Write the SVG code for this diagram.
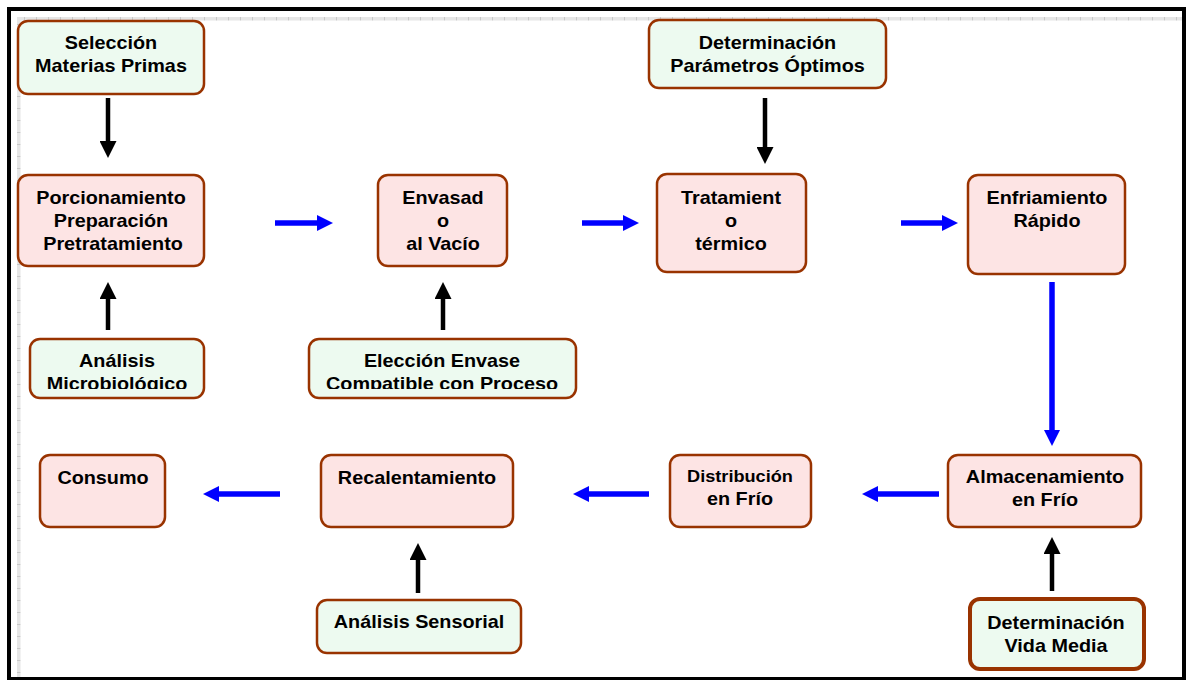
<svg xmlns="http://www.w3.org/2000/svg" width="1187" height="680" viewBox="0 0 1187 680">
<style>
.proc{fill:#FDE4E4;stroke:#993300;stroke-width:2.5}
.inp{fill:#EDFAF0;stroke:#993300;stroke-width:2.5}
.t{font-family:"Liberation Sans",Arial,sans-serif;font-weight:bold;font-size:18px;text-anchor:middle;fill:#000}
.blk{stroke:#000;stroke-width:4.5;fill:none}
.blu{stroke:#0000FF;stroke-width:5.5;fill:none}
</style>
<defs>
<marker id="hb" markerUnits="userSpaceOnUse" markerWidth="17" markerHeight="17" viewBox="0 0 17 17" refX="0" refY="8.5" orient="auto"><path d="M0,0 L17,8.5 L0,17 Z" fill="#000"/></marker>
<marker id="hu" markerUnits="userSpaceOnUse" markerWidth="16" markerHeight="16" viewBox="0 0 16 16" refX="0" refY="8" orient="auto"><path d="M0,0 L16,8 L0,16 Z" fill="#0000FF"/></marker>
<clipPath id="cut" clipPathUnits="userSpaceOnUse"><rect x="0" y="0" width="1187" height="389"/></clipPath>
<pattern id="rul" width="12" height="12" patternUnits="userSpaceOnUse"><rect width="12" height="12" fill="#e6e6e6"/><rect width="1" height="12" fill="#c8c8c8"/></pattern>
<pattern id="rulv" width="12" height="12" patternUnits="userSpaceOnUse"><rect width="12" height="12" fill="#e6e6e6"/><rect width="12" height="1" fill="#c8c8c8"/></pattern>
</defs>
<rect width="1187" height="680" fill="#fff"/>
<rect x="17" y="17" width="1165" height="3.5" fill="url(#rul)"/>
<rect x="17" y="17" width="3.5" height="660" fill="url(#rulv)"/>
<rect x="9" y="9" width="1175" height="670" fill="none" stroke="#000" stroke-width="4"/>

<g id="connectors">
<path class="blk" d="M108,98 V141" marker-end="url(#hb)"/>
<path class="blk" d="M108,330 V299" marker-end="url(#hb)"/>
<path class="blk" d="M443,330 V299" marker-end="url(#hb)"/>
<path class="blk" d="M765,98 V147" marker-end="url(#hb)"/>
<path class="blk" d="M418,593 V560" marker-end="url(#hb)"/>
<path class="blk" d="M1052,591 V554" marker-end="url(#hb)"/>
<path class="blu" d="M275,223 H317" marker-end="url(#hu)"/>
<path class="blu" d="M582,223 H623" marker-end="url(#hu)"/>
<path class="blu" d="M901,223 H942" marker-end="url(#hu)"/>
<path class="blu" d="M1052,282 V430" marker-end="url(#hu)"/>
<path class="blu" d="M939,494 H878" marker-end="url(#hu)"/>
<path class="blu" d="M649,494 H589" marker-end="url(#hu)"/>
<path class="blu" d="M280,494 H219" marker-end="url(#hu)"/>
</g>

<g id="seleccion">
<rect class="inp" x="18" y="21" width="186" height="73" rx="10"/>
<text class="t" transform="translate(111,49) scale(1.1,1)">Selección</text>
<text class="t" transform="translate(111,72) scale(1.1,1)">Materias Primas</text>
</g>
<g id="porcionamiento">
<rect class="proc" x="18" y="175" width="186" height="91" rx="10"/>
<text class="t" transform="translate(111,204) scale(1.1,1)">Porcionamiento</text>
<text class="t" transform="translate(111,227) scale(1.1,1)">Preparación</text>
<text class="t" transform="translate(113,250) scale(1.1,1)">Pretratamiento</text>
</g>
<g id="analisis-micro">
<rect class="inp" x="30" y="339" width="174" height="59" rx="10"/>
<g clip-path="url(#cut)">
<text class="t" transform="translate(117,366.5) scale(1.1,1)">Análisis</text>
<text class="t" transform="translate(117,390) scale(1.1,1)">Microbiológico</text>
</g>
</g>
<g id="envasado">
<rect class="proc" x="378" y="175" width="129" height="91" rx="10"/>
<text class="t" transform="translate(443,204) scale(1.1,1)">Envasad</text>
<text class="t" transform="translate(443,227) scale(1.1,1)">o</text>
<text class="t" transform="translate(443,250) scale(1.1,1)">al Vacío</text>
</g>
<g id="eleccion">
<rect class="inp" x="309" y="339" width="267" height="59" rx="10"/>
<g clip-path="url(#cut)">
<text class="t" transform="translate(442,366.5) scale(1.1,1)">Elección Envase</text>
<text class="t" transform="translate(442,390) scale(1.1,1)">Compatible con Proceso</text>
</g>
</g>
<g id="parametros">
<rect class="inp" x="649" y="20" width="237" height="68" rx="10"/>
<text class="t" transform="translate(767.5,49) scale(1.1,1)">Determinación</text>
<text class="t" transform="translate(767.5,72) scale(1.1,1)">Parámetros Óptimos</text>
</g>
<g id="tratamiento">
<rect class="proc" x="657" y="174" width="149" height="98" rx="10"/>
<text class="t" transform="translate(731,204) scale(1.1,1)">Tratamient</text>
<text class="t" transform="translate(731,227) scale(1.1,1)">o</text>
<text class="t" transform="translate(731,250) scale(1.1,1)">térmico</text>
</g>
<g id="enfriamiento">
<rect class="proc" x="968" y="175" width="157" height="99" rx="10"/>
<text class="t" transform="translate(1047,204) scale(1.1,1)">Enfriamiento</text>
<text class="t" transform="translate(1047,227) scale(1.1,1)">Rápido</text>
</g>
<g id="almacenamiento">
<rect class="proc" x="948" y="455" width="193" height="72" rx="10"/>
<text class="t" transform="translate(1045,483) scale(1.1,1)">Almacenamiento</text>
<text class="t" transform="translate(1045,506) scale(1.1,1)">en Frío</text>
</g>
<g id="vida-media">
<rect class="inp" x="970" y="599" width="174" height="70" rx="10" style="stroke-width:4"/>
<text class="t" transform="translate(1056,629) scale(1.1,1)">Determinación</text>
<text class="t" transform="translate(1056,652) scale(1.1,1)">Vida Media</text>
</g>
<g id="distribucion">
<rect class="proc" x="670" y="455" width="141" height="72" rx="10"/>
<text class="t" transform="translate(740,481.5) scale(1.1,1)" style="font-size:16.5px">Distribución</text>
<text class="t" transform="translate(740,505) scale(1.1,1)">en Frío</text>
</g>
<g id="recalentamiento">
<rect class="proc" x="321" y="455" width="192" height="72" rx="10"/>
<text class="t" transform="translate(417,484) scale(1.1,1)">Recalentamiento</text>
</g>
<g id="sensorial">
<rect class="inp" x="317" y="600" width="204" height="53" rx="10"/>
<text class="t" transform="translate(419,628) scale(1.1,1)">Análisis Sensorial</text>
</g>
<g id="consumo">
<rect class="proc" x="40" y="455" width="125" height="72" rx="10"/>
<text class="t" transform="translate(103,484) scale(1.1,1)">Consumo</text>
</g>
</svg>
